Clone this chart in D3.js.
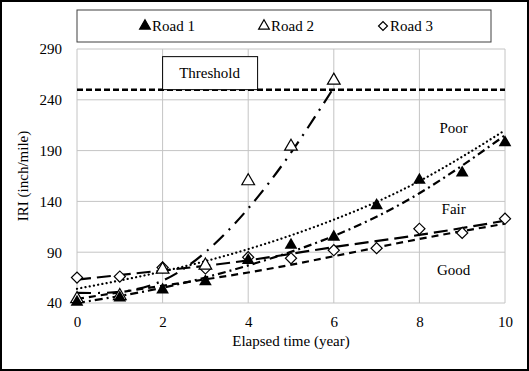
<!DOCTYPE html>
<html>
<head>
<meta charset="utf-8">
<script src="https://cdn.jsdelivr.net/npm/d3@7"></script>
<style>
  body { margin: 0; background: #fff; }
</style>
</head>
<body>
<div id="chart"></div>
<script>
/*measured points, elapsed time in years*/
var years = [0, 1, 2, 3, 4, 5, 6, 7, 8, 9, 10];
var road1 = [41, 45, 53, 61, 82, 97, 105, 136, 161, 168, 198];
var road2Years = [0, 1, 2, 3, 4, 5, 6];
var road2 = [44, 47, 73, 77, 160, 194, 259];
var road3 = [65, 66, 75, 74, 85, 84, 92, 94, 113, 109, 123];

/*trend lines, values*/
var trendYears = [0, 2, 4, 6, 8, 10];
var road1TrendDotted = [54, 71, 93, 122, 160, 210];
var road1TrendDashDot = [40, 55, 77, 106, 148, 205];
var road2TrendYears = [0, 1, 2, 3, 4, 5, 6];
var road2Trend = [50, 51, 62, 90, 133, 188, 252];
var road3TrendLong = [63, 72, 82, 95, 107, 121];
var road3TrendShort = [44, 57, 70, 86, 103, 118];
var threshold = 250;

var xTicks = [0, 2, 4, 6, 8, 10];
var yTicks = [40, 90, 140, 190, 240, 290];
var legendNames = ["Road 1", "Road 2", "Road 3"];
var zoneLabels = [{ name: "Poor", value: 212 }, { name: "Fair", value: 133 }, { name: "Good", value: 72 }];

var serif = "'Liberation Serif', 'DejaVu Serif', serif";

/*svg size and plot area*/
var svgWidth = 529, svgHeight = 371;
var margin = { top: 49, right: 24, bottom: 68, left: 77 };
var width = svgWidth - margin.left - margin.right;
var height = svgHeight - margin.top - margin.bottom;

var svg = d3.select("#chart").append("svg")
  .attr("width", svgWidth)
  .attr("height", svgHeight)
  .style("font-family", serif)
  .style("font-size", "15px");

svg.append("rect")
  .attr("x", 1).attr("y", 1)
  .attr("width", svgWidth - 2).attr("height", svgHeight - 2)
  .attr("fill", "#fff").attr("stroke", "#000").attr("stroke-width", 2);

var g = svg.append("g").attr("transform", `translate(${margin.left},${margin.top})`);

var xScale = d3.scaleLinear().domain([0, 10]).range([0, width]);
var yScale = d3.scaleLinear().domain([40, 290]).range([height, 0]);

/*gridlines*/
g.append("g").selectAll("line").data(xTicks).enter().append("line")
  .attr("x1", d => xScale(d)).attr("x2", d => xScale(d))
  .attr("y1", 0).attr("y2", height)
  .attr("stroke", "#c4c4c4").attr("stroke-width", 1);
g.append("g").selectAll("line").data(yTicks).enter().append("line")
  .attr("x1", 0).attr("x2", width)
  .attr("y1", d => yScale(d)).attr("y2", d => yScale(d))
  .attr("stroke", "#c4c4c4").attr("stroke-width", 1);

/*axes, labels only*/
var bottomAxis = d3.axisBottom(xScale).tickValues(xTicks).tickSize(0).tickPadding(13);
var leftAxis = d3.axisLeft(yScale).tickValues(yTicks).tickSize(0).tickPadding(15);
var xa = g.append("g").attr("transform", `translate(0,${height})`).call(bottomAxis);
var ya = g.append("g").call(leftAxis);
[xa, ya].forEach(function(a) {
  a.attr("font-family", null).attr("font-size", null);
  a.select(".domain").remove();
  a.selectAll("text").style("font-family", serif).style("font-size", "15px").attr("fill", "#000");
});

svg.append("text")
  .attr("text-anchor", "middle")
  .attr("x", 291).attr("y", 346)
  .text("Elapsed time (year)");

svg.append("text")
  .attr("text-anchor", "middle")
  .attr("transform", "translate(28,176) rotate(-90)")
  .text("IRI (inch/mile)");

/*threshold*/
g.append("line")
  .attr("x1", 0).attr("x2", width)
  .attr("y1", yScale(threshold)).attr("y2", yScale(threshold))
  .attr("stroke", "#000").attr("stroke-width", 2.5).attr("stroke-dasharray", "6,3");

g.append("rect")
  .attr("x", xScale(2)).attr("y", yScale(threshold) - 33)
  .attr("width", 95).attr("height", 33)
  .attr("fill", "#fff").attr("stroke", "#000").attr("stroke-width", 1);
g.append("text")
  .attr("text-anchor", "middle")
  .attr("x", xScale(2) + 47).attr("y", yScale(threshold) - 12)
  .text("Threshold");

/*trend lines*/
function trend(xs, ys, dash) {
  var line = d3.line()
    .x((d, i) => xScale(xs[i]))
    .y(d => yScale(d))
    .curve(d3.curveNatural);
  return g.append("path")
    .attr("d", line(ys))
    .attr("fill", "none")
    .attr("stroke", "#000")
    .attr("stroke-width", 2.2)
    .attr("stroke-dasharray", dash);
}
trend(trendYears, road3TrendShort, "7,5");
trend(trendYears, road3TrendLong, "14,6");
trend(trendYears, road1TrendDashDot, "8,4,2,4");
trend(trendYears, road1TrendDotted, "0.1,4.2").attr("stroke-linecap", "round");
trend(road2TrendYears, road2Trend, "14,7,2,7");

/*markers*/
var triangle = d3.symbol().type(d3.symbolTriangle).size(70);
var diamond = d3.symbol().type(d3.symbolSquare).size(62);

g.append("g").selectAll("path").data(road3).enter().append("path")
  .attr("d", diamond)
  .attr("transform", (d, i) => `translate(${xScale(years[i])},${yScale(d)}) rotate(45)`)
  .attr("fill", "#fff").attr("stroke", "#000").attr("stroke-width", 1.2);

g.append("g").selectAll("path").data(road2).enter().append("path")
  .attr("d", triangle)
  .attr("transform", (d, i) => `translate(${xScale(road2Years[i])},${yScale(d)})`)
  .attr("fill", "#fff").attr("stroke", "#000").attr("stroke-width", 1.2);

g.append("g").selectAll("path").data(road1).enter().append("path")
  .attr("d", triangle)
  .attr("transform", (d, i) => `translate(${xScale(years[i])},${yScale(d)})`)
  .attr("fill", "#000");

/*zone labels*/
g.append("g").selectAll("text").data(zoneLabels).enter().append("text")
  .attr("text-anchor", "middle")
  .attr("x", xScale(8.8))
  .attr("y", d => yScale(d.value) + 5)
  .text(d => d.name);

/*legend*/
var legend = svg.append("g");
legend.append("rect")
  .attr("x", 77).attr("y", 10)
  .attr("width", 414).attr("height", 32)
  .attr("fill", "#fff").attr("stroke", "#404040").attr("stroke-width", 1);

var legendX = [145, 264, 383];
var legendItems = legend.selectAll(".item").data(legendNames).enter().append("g")
  .attr("class", "item")
  .attr("transform", (d, i) => `translate(${legendX[i]},26)`);

legendItems.append("path")
  .attr("d", (d, i) => i == 2 ? d3.symbol().type(d3.symbolSquare).size(40)() : d3.symbol().type(d3.symbolTriangle).size(50)())
  .attr("transform", (d, i) => i == 2 ? "rotate(45)" : "")
  .attr("fill", (d, i) => i == 0 ? "#000" : "#fff")
  .attr("stroke", "#000").attr("stroke-width", 1.2);

legendItems.append("text")
  .attr("x", 7).attr("y", 5)
  .text(d => d);
</script>
</body>
</html>
